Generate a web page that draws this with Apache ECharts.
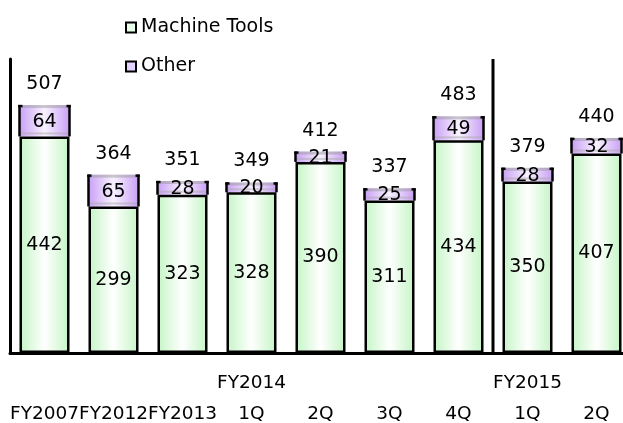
<!DOCTYPE html>
<html>
<head>
<meta charset="utf-8">
<script src="https://cdn.jsdelivr.net/npm/echarts@6/dist/echarts.min.js"></script>
<style>html,body{margin:0;padding:0;background:#fff;}#chart{width:623px;height:423px;}</style>
</head>
<body>
<div id="chart"></div>
<script>
const categories = ['FY2007','FY2012','FY2013','FY2014 1Q','FY2014 2Q','FY2014 3Q','FY2014 4Q','FY2015 1Q','FY2015 2Q'];
const groupLabels = ['', '', '', 'FY2014', '', '', '', 'FY2015', ''];
const tickLabels = ['FY2007','FY2012','FY2013','1Q','2Q','3Q','4Q','1Q','2Q'];
const machineTools = [442, 299, 323, 328, 390, 311, 434, 350, 407];
const other = [64, 65, 28, 20, 21, 25, 49, 28, 32];
const totals = [507, 364, 351, 349, 412, 337, 483, 379, 440];
const dividerAfterIndex = 6;
const yMax = 600;

const FONT = 'DejaVu Sans';
const FS = 19;
const BW = 50;

const greenGrad = new echarts.graphic.LinearGradient(0, 0, 1, 0, [
  {offset: 0, color: '#c4f5c4'}, {offset: 0.5, color: '#ffffff'}, {offset: 1, color: '#c4f5c4'}
]);
const purpleGrad = () => new echarts.graphic.LinearGradient(0, 0, 1, 0, [
  {offset: 0, color: '#c9a0f5'}, {offset: 0.5, color: '#f8f2ff'}, {offset: 1, color: '#c9a0f5'}
]);

const otherData = categories.map((c, i) => [i, machineTools[i], other[i], totals[i]]);

const chart = echarts.init(document.getElementById('chart'));
chart.setOption({
  animation: false,
  backgroundColor: '#fff',
  textStyle: {fontFamily: FONT},
  grid: {left: 10, right: -8, top: 59, bottom: 70, containLabel: false, outerBoundsMode: 'none'},
  legend: {
    orient: 'vertical', left: 120, top: 13, itemGap: 20,
    icon: 'rect', itemWidth: 10, itemHeight: 10,
    textStyle: {fontSize: FS, fontFamily: FONT, color: '#000'},
    data: [
      {name: 'Machine Tools', itemStyle: {color: '#eaffea', borderColor: '#000', borderWidth: 2}},
      {name: 'Other', itemStyle: {color: '#e2d0ff', borderColor: '#000', borderWidth: 2}}
    ]
  },
  xAxis: {
    type: 'category', data: categories,
    axisLine: {show: true, lineStyle: {color: '#000', width: 3}},
    axisTick: {show: false},
    axisLabel: {
      interval: 0, margin: 15, fontSize: 18.5, fontFamily: FONT, color: '#000', lineHeight: 31,
      formatter: (v, i) => groupLabels[i] + '\n' + tickLabels[i]
    }
  },
  yAxis: {
    type: 'value', min: 0, max: yMax,
    axisLine: {show: true, lineStyle: {color: '#000', width: 3}},
    axisTick: {show: false}, axisLabel: {show: false}, splitLine: {show: false}
  },
  series: [
    {
      name: 'Machine Tools', type: 'bar', data: machineTools, barWidth: BW, z: 3,
      itemStyle: {color: greenGrad, borderColor: '#000', borderWidth: 2.5},
      label: {show: true, position: 'inside', fontSize: FS, fontFamily: FONT, color: '#000'}
    },
    {
      name: 'Other', type: 'custom', z: 2,
      itemStyle: {color: '#e2d0ff'},
      data: otherData,
      renderItem: (params, api) => {
        const i = api.value(0), base = api.value(1), val = api.value(2), tot = api.value(3);
        const p0 = api.coord([i, base]);
        const p1 = api.coord([i, base + val]);
        const x0 = p0[0] - BW / 2, x1 = p0[0] + BW / 2;
        const children = [
          {type: 'rect', shape: {x: x0, y: p1[1], width: BW, height: p0[1] - p1[1]}, style: {fill: purpleGrad()}},
          {type: 'line', shape: {x1: x0, y1: p1[1] + 1.5, x2: x1, y2: p1[1] + 1.5}, style: {stroke: '#9a9a9a', lineWidth: 3, lineDash: [1, 1]}},
          {type: 'line', shape: {x1: x0, y1: p0[1] - 3, x2: x1, y2: p0[1] - 3}, style: {stroke: '#a8a8a8', lineWidth: 2, lineDash: [1, 1]}},
          {type: 'line', shape: {x1: x0, y1: p1[1], x2: x0, y2: p0[1]}, style: {stroke: '#000', lineWidth: 2.5}},
          {type: 'line', shape: {x1: x1, y1: p1[1], x2: x1, y2: p0[1]}, style: {stroke: '#000', lineWidth: 2.5}},
          {type: 'line', shape: {x1: x0 - 1.25, y1: p1[1] + 1, x2: x0 + 3, y2: p1[1] + 1}, style: {stroke: '#000', lineWidth: 2.5}},
          {type: 'line', shape: {x1: x1 - 3, y1: p1[1] + 1, x2: x1 + 1.25, y2: p1[1] + 1}, style: {stroke: '#000', lineWidth: 2.5}},
          {type: 'text', style: {text: String(val), x: p0[0], y: (p0[1] + p1[1]) / 2 + 1, align: 'center', verticalAlign: 'middle', fontSize: FS, fontFamily: FONT, fill: '#000'}},
          {type: 'text', style: {text: String(tot), x: p0[0], y: p1[1] - 21, align: 'center', verticalAlign: 'middle', fontSize: FS, fontFamily: FONT, fill: '#000'}}
        ];
        if (i === dividerAfterIndex) {
          const bandW = api.size([1, 0])[0];
          const xd = p0[0] + bandW / 2;
          const top = api.coord([i, yMax])[1];
          const bot = api.coord([i, 0])[1];
          children.push({type: 'line', shape: {x1: xd, y1: top, x2: xd, y2: bot}, style: {stroke: '#000', lineWidth: 3}});
        }
        return {type: 'group', children};
      }
    }
  ]
});
</script>
</body>
</html>
